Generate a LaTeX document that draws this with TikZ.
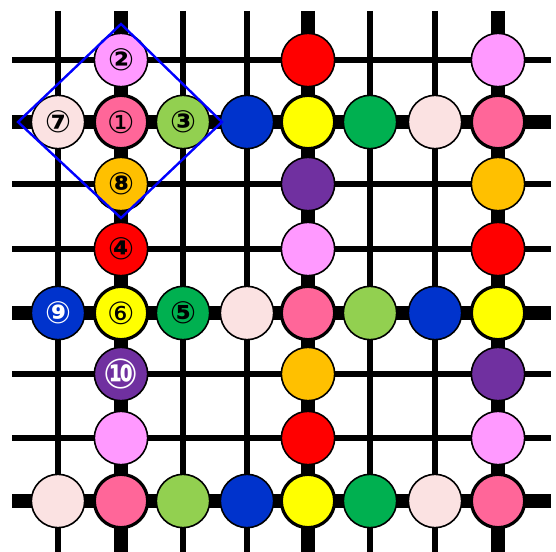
\documentclass[tikz,border=0pt]{standalone}
\usepackage{fontspec}
\newfontfamily\dejavu{DejaVu Sans}
\definecolor{violetpink}{HTML}{FF99FF}
\definecolor{hotpink}{HTML}{FF6699}
\definecolor{leaf}{HTML}{92D050}
\definecolor{navy}{HTML}{0033CC}
\definecolor{lemon}{HTML}{FFFF00}
\definecolor{emerald}{HTML}{00B050}
\definecolor{blush}{HTML}{FBE2E2}
\definecolor{amber}{HTML}{FFC000}
\definecolor{plum}{HTML}{7030A0}
\definecolor{scarlet}{HTML}{FF0000}
\tikzset{
  stone/.style={circle,draw,line width=1.2pt,minimum size=40pt,inner sep=0pt,
    font=\dejavu\bfseries\fontsize{23}{23}\selectfont},
  corner/.style={stone,line width=2.4pt},
  plain/.style={font=\dejavu\fontsize{23}{23}\selectfont},
}
\begin{document}
\begin{tikzpicture}[x=0.75pt,y=-0.75pt]
  \useasboundingbox (0,0) rectangle (556,552);
  % thin lines
  \foreach \x in {58,183,247,370,435} \draw[line width=4.5pt] (\x,11) -- (\x,552);
  \foreach \y in {60,184,249,374,438} \draw[line width=4.5pt] (12,\y) -- (551,\y);
  % thick lines
  \foreach \x in {121,308,498} \draw[line width=10.9pt] (\x,11) -- (\x,552);
  \foreach \y in {122,313,501} \draw[line width=10.9pt] (12,\y) -- (551,\y);

  % row 1
  \node[stone,fill=violetpink] (r1c2) at (121,60) {②};
  \node[stone,fill=scarlet] (r1c5) at (308,60) {};
  \node[stone,fill=violetpink] (r1c8) at (498,60) {};
  % row 2
  \node[stone,fill=blush] (r2c1) at (58,122) {⑦};
  \node[corner,fill=hotpink,plain] (r2c2) at (121,122) {①};
  \node[stone,fill=leaf] (r2c3) at (183,122) {③};
  \node[stone,fill=navy] (r2c4) at (247,122) {};
  \node[corner,fill=lemon] (r2c5) at (308,122) {};
  \node[stone,fill=emerald] (r2c6) at (370,122) {};
  \node[stone,fill=blush] (r2c7) at (435,122) {};
  \node[corner,fill=hotpink] (r2c8) at (498,122) {};
  % row 3
  \node[stone,fill=amber] (r3c2) at (121,184) {⑧};
  \node[stone,fill=plum] (r3c5) at (308,184) {};
  \node[stone,fill=amber] (r3c8) at (498,184) {};
  % row 4
  \node[stone,fill=scarlet] (r4c2) at (121,249) {④};
  \node[stone,fill=violetpink] (r4c5) at (308,249) {};
  \node[stone,fill=scarlet] (r4c8) at (498,249) {};
  % row 5
  \node[stone,fill=navy,text=white] (r5c1) at (58,313) {⑨};
  \node[corner,fill=lemon,plain] (r5c2) at (121,313) {⑥};
  \node[stone,fill=emerald] (r5c3) at (183,313) {⑤};
  \node[stone,fill=blush] (r5c4) at (247,313) {};
  \node[corner,fill=hotpink] (r5c5) at (308,313) {};
  \node[stone,fill=leaf] (r5c6) at (370,313) {};
  \node[stone,fill=navy] (r5c7) at (435,313) {};
  \node[corner,fill=lemon] (r5c8) at (498,313) {};
  % row 6
  \node[stone,fill=plum,text=white,font=\dejavu\bfseries\fontsize{31}{31}\selectfont] (r6c2) at (121,374) {⑩};
  \node[stone,fill=amber] (r6c5) at (308,374) {};
  \node[stone,fill=plum] (r6c8) at (498,374) {};
  % row 7
  \node[stone,fill=violetpink] (r7c2) at (121,438) {};
  \node[stone,fill=scarlet] (r7c5) at (308,438) {};
  \node[stone,fill=violetpink] (r7c8) at (498,438) {};
  % row 8
  \node[stone,fill=blush] (r8c1) at (58,501) {};
  \node[corner,fill=hotpink] (r8c2) at (121,501) {};
  \node[stone,fill=leaf] (r8c3) at (183,501) {};
  \node[stone,fill=navy] (r8c4) at (247,501) {};
  \node[corner,fill=lemon] (r8c5) at (308,501) {};
  \node[stone,fill=emerald] (r8c6) at (370,501) {};
  \node[stone,fill=blush] (r8c7) at (435,501) {};
  \node[corner,fill=hotpink] (r8c8) at (498,501) {};

  % frame round the first piece
  \draw[blue,line width=1.8pt] (121,24) -- (222,122) -- (121,218) -- (18,122) -- cycle;
\end{tikzpicture}
\end{document}
